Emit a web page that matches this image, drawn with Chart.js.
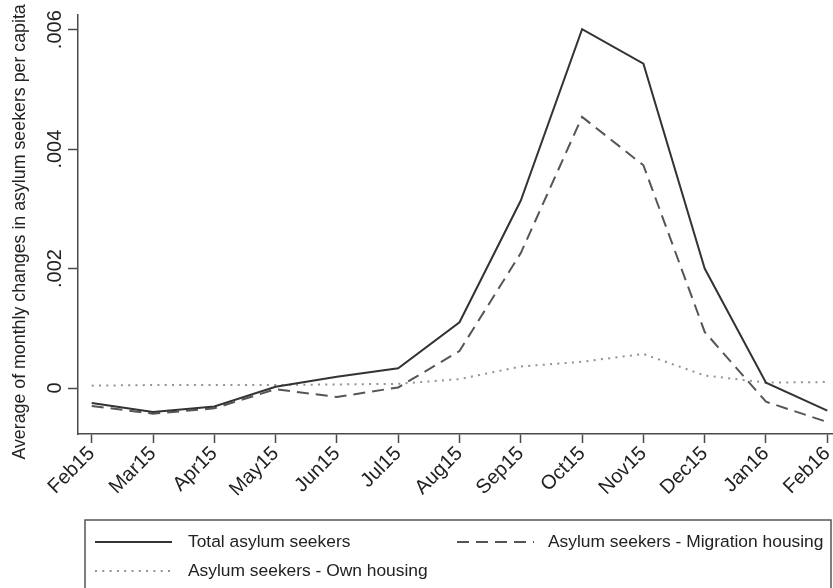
<!DOCTYPE html>
<html>
<head>
<meta charset="utf-8">
<script src="https://cdn.jsdelivr.net/npm/chart.js@4.4.1/dist/chart.umd.min.js"></script>
<style>
    body { margin: 0; background: #fff; }
    canvas { display: block; }
</style>
</head>
<body>
<canvas id="asylumChart" width="833" height="588"></canvas>
<script>
// Месяцы и значения рядов
const months = ['Feb15', 'Mar15', 'Apr15', 'May15', 'Jun15', 'Jul15', 'Aug15', 'Sep15', 'Oct15', 'Nov15', 'Dec15', 'Jan16', 'Feb16'];
const totalSeekers = [-0.00025, -0.0004, -0.00031, 0.00002, 0.00019, 0.00033, 0.0011, 0.00314, 0.00601, 0.00543, 0.0020, 0.00009, -0.00038];
const migrationHousing = [-0.0003, -0.00043, -0.00034, -0.00002, -0.00015, 0.00001, 0.00062, 0.00226, 0.00454, 0.00373, 0.00094, -0.00023, -0.00057];
const ownHousing = [0.00004, 0.00005, 0.00005, 0.00005, 0.00006, 0.00007, 0.00015, 0.00036, 0.00044, 0.00057, 0.00021, 0.00009, 0.0001];
const yTicks = [0, 0.002, 0.004, 0.006];

const FONT = "'Liberation Sans', Arial, sans-serif";

function toPoints(values) {
    return values.map((v, i) => ({ x: i, y: v }));
}

// Легенда в рамке под графиком (два столбца)
const boxedLegend = {
    id: 'boxedLegend',
    afterDraw(chart) {
        const ctx = chart.ctx;
        const area = chart.chartArea;
        const top = area.bottom + 86;
        const left = area.left + 7;
        const right = chart.width - 2;
        ctx.save();
        ctx.strokeStyle = '#555';
        ctx.lineWidth = 1.5;
        ctx.strokeRect(left, top, right - left, 80);

        const slots = [
            { x: left + 10, y: top + 22 },
            { x: left + 372, y: top + 22 },
            { x: left + 10, y: top + 51 }
        ];
        chart.data.datasets.forEach((ds, i) => {
            const s = slots[i];
            ctx.beginPath();
            ctx.strokeStyle = ds.borderColor;
            ctx.lineWidth = ds.borderWidth;
            ctx.setLineDash(ds.borderDash || []);
            ctx.moveTo(s.x, s.y);
            ctx.lineTo(s.x + 77, s.y);
            ctx.stroke();
            ctx.setLineDash([]);
            ctx.fillStyle = '#222';
            ctx.font = '17.4px ' + FONT;
            ctx.textBaseline = 'middle';
            ctx.fillText(ds.label, s.x + (i === 1 ? 91 : 93), s.y);
        });
        ctx.restore();
    }
};

document.addEventListener('DOMContentLoaded', function() {
    const ctx = document.getElementById('asylumChart').getContext('2d');
    new Chart(ctx, {
        type: 'line',
        data: {
            datasets: [
                {
                    label: 'Total asylum seekers',
                    data: toPoints(totalSeekers),
                    borderColor: '#333',
                    borderWidth: 2
                },
                {
                    label: 'Asylum seekers - Migration housing',
                    data: toPoints(migrationHousing),
                    borderColor: '#555',
                    borderWidth: 2,
                    borderDash: [12, 7]
                },
                {
                    label: 'Asylum seekers - Own housing',
                    data: toPoints(ownHousing),
                    borderColor: '#929292',
                    borderWidth: 2,
                    borderDash: [2, 5.3]
                }
            ]
        },
        options: {
            responsive: false,
            animation: false,
            layout: { padding: { top: 15, right: 0, bottom: 74, left: 0 } },
            elements: { point: { radius: 0 }, line: { tension: 0 } },
            plugins: { legend: { display: false }, tooltip: { enabled: false } },
            scales: {
                x: {
                    type: 'linear',
                    min: -0.2235,
                    max: 12.093,
                    afterBuildTicks: scale => { scale.ticks = months.map((m, i) => ({ value: i })); },
                    afterFit: scale => {
                        scale.height = 80;
                        scale.paddingLeft = 0;
                        scale.paddingRight = 0;
                    },
                    ticks: {
                        callback: v => months[v],
                        autoSkip: false,
                        minRotation: 45,
                        maxRotation: 45,
                        padding: -1,
                        color: '#222',
                        font: { family: FONT, size: 20 }
                    },
                    grid: { drawOnChartArea: false, tickLength: 9, tickWidth: 1.5, color: '#4a4a4a' },
                    border: { color: '#4a4a4a', width: 1.5 }
                },
                y: {
                    min: -0.00077,
                    max: 0.006246,
                    afterBuildTicks: scale => { scale.ticks = yTicks.map(v => ({ value: v })); },
                    afterFit: scale => { scale.width = 78; },
                    ticks: {
                        callback: v => v === 0 ? '0' : v.toFixed(3).replace(/^0/, ''),
                        minRotation: 90,
                        maxRotation: 90,
                        crossAlign: 'center',
                        padding: -6.5,
                        color: '#222',
                        font: { family: FONT, size: 20 }
                    },
                    title: {
                        display: true,
                        // хвостовые пробелы слегка сдвигают подпись вниз, как в оригинале
                        text: 'Average of monthly changes in asylum seekers per capita   ',
                        color: '#222',
                        font: { family: FONT, size: 17.8 },
                        padding: { top: 9, bottom: 0 }
                    },
                    grid: { drawOnChartArea: false, tickLength: 10, tickWidth: 1.5, color: '#4a4a4a' },
                    border: { color: '#4a4a4a', width: 1.5 }
                }
            }
        },
        plugins: [boxedLegend]
    });
});
</script>
</body>
</html>
